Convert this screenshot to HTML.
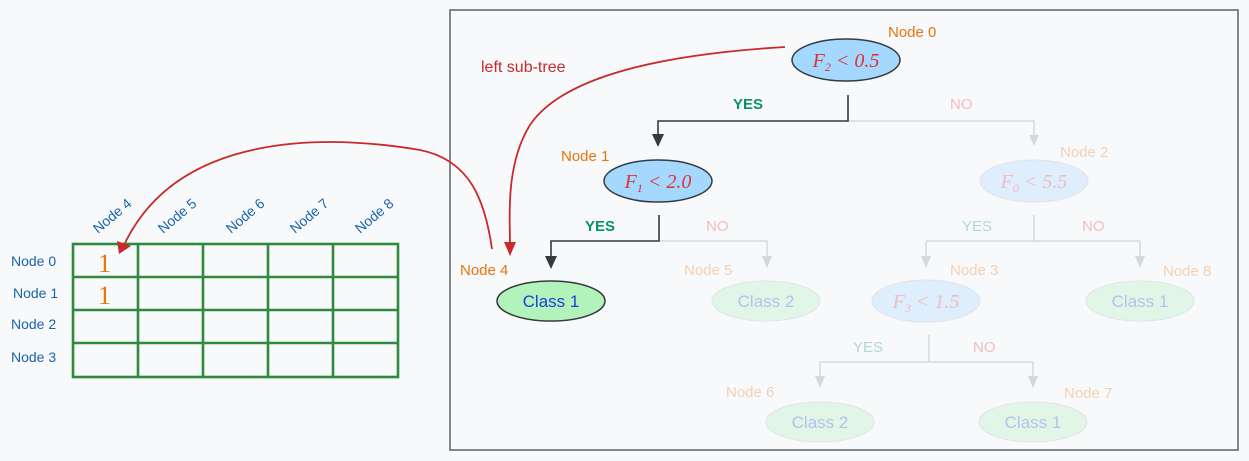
<!DOCTYPE html>
<html><head><meta charset="utf-8"><style>
html,body{margin:0;padding:0;background:#f8f9fb;}
svg{display:block;font-family:"Liberation Sans",sans-serif;}
.hand{font-family:"Comic Sans MS","Liberation Sans",sans-serif;}
.m{font-family:"Liberation Serif",serif;font-style:italic;}
</style></head><body>
<svg width="1249" height="461" viewBox="0 0 1249 461">
<rect x="450" y="10" width="788" height="440" fill="none" stroke="#5c5f66" stroke-width="1.5"/>

<!-- grid -->
<g stroke="#2f8a3d" stroke-width="2.6" fill="none">
<rect x="73" y="244" width="325" height="133"/>
<line x1="73" y1="277" x2="398" y2="277"/><line x1="73" y1="310" x2="398" y2="310"/><line x1="73" y1="343" x2="398" y2="343"/>
<line x1="138" y1="244" x2="138" y2="377"/><line x1="203" y1="244" x2="203" y2="377"/><line x1="268" y1="244" x2="268" y2="377"/><line x1="333" y1="244" x2="333" y2="377"/>
</g>
<g fill="#1864ab" font-size="14" class="hand">
<text x="11" y="266">Node 0</text><text x="13" y="298">Node 1</text><text x="11" y="329">Node 2</text><text x="11" y="362">Node 3</text>
<text transform="translate(98,234) rotate(-40)">Node 4</text>
<text transform="translate(163,234) rotate(-40)">Node 5</text>
<text transform="translate(231,234) rotate(-40)">Node 6</text>
<text transform="translate(295,234) rotate(-40)">Node 7</text>
<text transform="translate(360,234) rotate(-40)">Node 8</text>
</g>
<g fill="#e8740c" font-size="26" font-family="Liberation Serif,serif"><text x="98" y="272">1</text><text x="98" y="304">1</text></g>

<!-- faded part -->
<g opacity="0.3">
<g stroke="#868e96" stroke-width="1.5" fill="none">
<path d="M848 121 H1034 V140"/>
<path d="M658 241 H767 V262"/>
<path d="M1034 215 V241 M926 241 H1140 M926 241 V262 M1140 241 V262"/>
<path d="M929 335 V362 M820 362 H1033 M820 362 V382 M1033 362 V382"/>
</g>
<g fill="#868e96">
<path d="M1029 135 L1034 146 L1039 135Z"/><path d="M762 256 L767 268 L772 256Z"/>
<path d="M921 256 L926 268 L931 256Z"/><path d="M1135 256 L1140 268 L1145 256Z"/>
<path d="M815 376 L820 388 L825 376Z"/><path d="M1028 376 L1033 388 L1038 376Z"/>
</g>
<ellipse cx="1034" cy="181" rx="54" ry="21" fill="#a5d8ff" stroke="#adb5bd"/>
<ellipse cx="926" cy="301" rx="54" ry="21" fill="#a5d8ff" stroke="#adb5bd"/>
<ellipse cx="766" cy="301" rx="54" ry="20" fill="#b2f2bb" stroke="#adb5bd"/>
<ellipse cx="1140" cy="301" rx="54" ry="20" fill="#b2f2bb" stroke="#adb5bd"/>
<ellipse cx="820" cy="422" rx="54" ry="20" fill="#b2f2bb" stroke="#adb5bd"/>
<ellipse cx="1033" cy="422" rx="54" ry="20" fill="#b2f2bb" stroke="#adb5bd"/>
<g font-size="20" fill="#e03131" class="m" text-anchor="middle">
<text x="1034" y="188">F<tspan font-size="12" dy="4">0</tspan><tspan dy="-4"> &lt; 5.5</tspan></text>
<text x="926" y="308">F<tspan font-size="12" dy="4">3</tspan><tspan dy="-4"> &lt; 1.5</tspan></text></g>
<g font-size="17" fill="#1c3fd4" class="hand" text-anchor="middle">
<text x="766" y="307">Class 2</text><text x="1140" y="307">Class 1</text>
<text x="820" y="428">Class 2</text><text x="1033" y="428">Class 1</text></g>
<g font-size="15" fill="#e8740c" class="hand">
<text x="1060" y="157">Node 2</text><text x="684" y="275">Node 5</text><text x="950" y="275">Node 3</text>
<text x="1163" y="276">Node 8</text><text x="726" y="397">Node 6</text><text x="1064" y="398">Node 7</text></g>
<g font-size="15" class="hand"><text x="950" y="109" fill="#e03131">NO</text><text x="706" y="231" fill="#e03131">NO</text>
<text x="962" y="231" fill="#099268">YES</text><text x="1082" y="231" fill="#e03131">NO</text>
<text x="853" y="352" fill="#099268">YES</text><text x="973" y="352" fill="#e03131">NO</text></g>
</g>

<!-- active connectors -->
<g stroke="#343a40" stroke-width="1.6" fill="none">
<path d="M848 95 V121 H658 V136"/>
<path d="M659 215 V241 H551 V258"/>
</g>
<path d="M652 134 L658 147 L664 134Z" fill="#343a40"/>
<path d="M545 256 L551 269 L557 256Z" fill="#343a40"/>
<ellipse cx="846" cy="60" rx="54" ry="21" fill="#a5d8ff" stroke="#343a40" stroke-width="1.5"/>
<ellipse cx="658" cy="181" rx="54" ry="21" fill="#a5d8ff" stroke="#343a40" stroke-width="1.5"/>
<ellipse cx="551" cy="301" rx="54" ry="20" fill="#b2f2bb" stroke="#343a40" stroke-width="1.5"/>
<g font-size="20" fill="#e03131" class="m" text-anchor="middle">
<text x="846" y="67">F<tspan font-size="12" dy="4">2</tspan><tspan dy="-4"> &lt; 0.5</tspan></text>
<text x="658" y="188">F<tspan font-size="12" dy="4">1</tspan><tspan dy="-4"> &lt; 2.0</tspan></text></g>
<text x="551" y="307" font-size="17" fill="#1c3fd4" class="hand" text-anchor="middle">Class 1</text>
<g font-size="15" fill="#e8740c" class="hand">
<text x="888" y="37">Node 0</text><text x="561" y="161">Node 1</text><text x="460" y="275">Node 4</text></g>
<g font-size="15" fill="#099268" class="hand" font-weight="bold"><text x="733" y="109">YES</text><text x="585" y="231">YES</text></g>
<text x="481" y="72" font-size="16" fill="#c92a2a" class="hand">left sub-tree</text>

<!-- red arrows -->
<g stroke="#c92a2a" stroke-width="1.8" fill="none">
<path d="M785 47 C650 55 560 80 530 125 C505 165 510 220 510 243"/>
<path d="M492 249 C485 200 470 160 420 150 C330 135 180 130 125 243"/>
</g>
<path d="M504 242 L510 256 L516 242Z" fill="#c92a2a"/>
<path d="M117 241 L119 254 L131 246Z" fill="#c92a2a"/>
</svg>
</body></html>
